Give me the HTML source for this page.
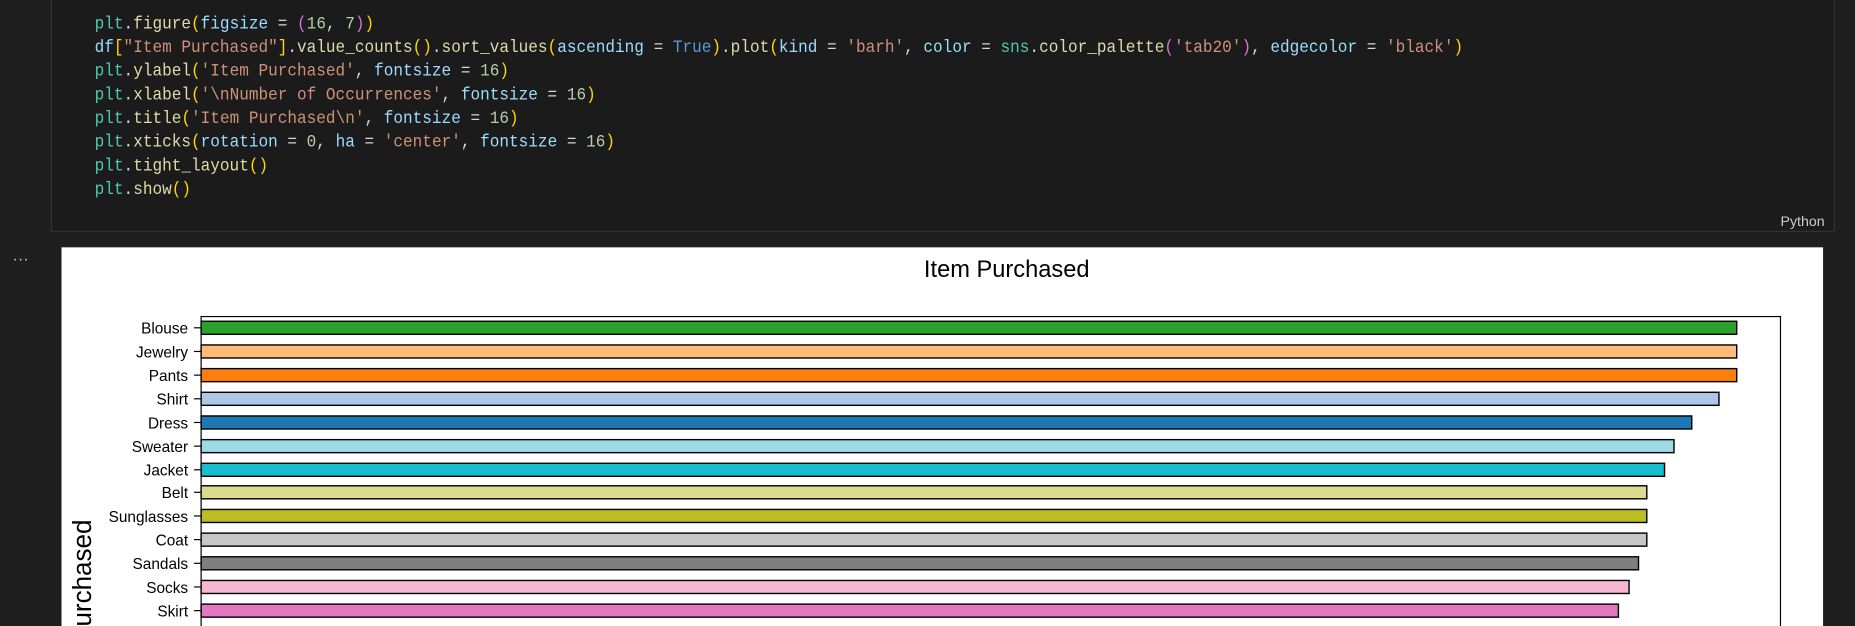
<!DOCTYPE html>
<html><head><meta charset="utf-8"><style>
html,body{margin:0;padding:0;background:#1f1f1f;overflow:hidden;width:1855px;height:626px}
#w{position:absolute;left:0;top:0;width:1568px;height:529px;overflow:hidden;transform:scale(1.18304,1.1834);transform-origin:0 0}
#cell{position:absolute;left:43px;top:-2px;width:1508px;height:198px;background:#1b1b1b;border:1px solid #333;box-sizing:border-box}
.code{position:absolute;left:80px;top:11px;font-family:"Liberation Mono",monospace;font-size:14.6px;line-height:20px;color:#d4d4d4;white-space:pre;transform:scaleX(0.93);transform-origin:0 0}
.p{color:#4ec9b0}.f{color:#dcdcaa}.a{color:#9cdcfe}.s{color:#ce9178}.n{color:#b5cea8}.y{color:#ffd700}.m{color:#da70d6}.b{color:#569cd6}
#py{position:absolute;left:1505px;top:180px;font-family:"Liberation Sans",sans-serif;font-size:12px;color:#ccc}
#dots{position:absolute;left:11px;top:208px;color:#ccc;font-family:"Liberation Sans",sans-serif;font-size:13px;letter-spacing:1px}
#panel{position:absolute;left:52px;top:209px;width:1489px;height:320px;background:#fff}
</style></head><body><div id="w">
<div id="cell"></div>
<div class="code"><span class="p">plt</span>.<span class="f">figure</span><span class="y">(</span><span class="a">figsize</span> = <span class="m">(</span><span class="n">16</span>, <span class="n">7</span><span class="m">)</span><span class="y">)</span>
<span class="a">df</span><span class="y">[</span><span class="s">"Item Purchased"</span><span class="y">]</span>.<span class="f">value_counts</span><span class="y">()</span>.<span class="f">sort_values</span><span class="y">(</span><span class="a">ascending</span> = <span class="b">True</span><span class="y">)</span>.<span class="f">plot</span><span class="y">(</span><span class="a">kind</span> = <span class="s">'barh'</span>, <span class="a">color</span> = <span class="p">sns</span>.<span class="f">color_palette</span><span class="m">(</span><span class="s">'tab20'</span><span class="m">)</span>, <span class="a">edgecolor</span> = <span class="s">'black'</span><span class="y">)</span>
<span class="p">plt</span>.<span class="f">ylabel</span><span class="y">(</span><span class="s">'Item Purchased'</span>, <span class="a">fontsize</span> = <span class="n">16</span><span class="y">)</span>
<span class="p">plt</span>.<span class="f">xlabel</span><span class="y">(</span><span class="s">'\nNumber of Occurrences'</span>, <span class="a">fontsize</span> = <span class="n">16</span><span class="y">)</span>
<span class="p">plt</span>.<span class="f">title</span><span class="y">(</span><span class="s">'Item Purchased\n'</span>, <span class="a">fontsize</span> = <span class="n">16</span><span class="y">)</span>
<span class="p">plt</span>.<span class="f">xticks</span><span class="y">(</span><span class="a">rotation</span> = <span class="n">0</span>, <span class="a">ha</span> = <span class="s">'center'</span>, <span class="a">fontsize</span> = <span class="n">16</span><span class="y">)</span>
<span class="p">plt</span>.<span class="f">tight_layout</span><span class="y">()</span>
<span class="p">plt</span>.<span class="f">show</span><span class="y">()</span></div>
<div id="py">Python</div>
<div id="dots">...</div>
<div id="panel"></div>
<svg style="position:absolute;left:0;top:0" width="1568" height="529" font-family="Liberation Sans, DejaVu Sans, sans-serif">
<text x="851" y="234" font-size="20" text-anchor="middle" fill="#000">Item Purchased</text>
<rect x="170" y="267.5" width="1335" height="280" fill="none" stroke="#000" stroke-width="1"/>
<g stroke="#000" stroke-width="1.2">
<rect x="170" y="271.5" width="1298" height="11" fill="#2ca02c"/>
<rect x="170" y="291.5" width="1298" height="11" fill="#ffbb78"/>
<rect x="170" y="311.5" width="1298" height="11" fill="#ff7f0e"/>
<rect x="170" y="331.5" width="1283" height="11" fill="#aec7e8"/>
<rect x="170" y="351.5" width="1260" height="11" fill="#1f77b4"/>
<rect x="170" y="371.5" width="1245" height="11" fill="#9edae5"/>
<rect x="170" y="391.5" width="1237" height="11" fill="#17becf"/>
<rect x="170" y="410.5" width="1222" height="11" fill="#dbdb8d"/>
<rect x="170" y="430.5" width="1222" height="11" fill="#bcbd22"/>
<rect x="170" y="450.5" width="1222" height="11" fill="#c7c7c7"/>
<rect x="170" y="470.5" width="1215" height="11" fill="#7f7f7f"/>
<rect x="170" y="490.5" width="1207" height="11" fill="#f7b6d2"/>
<rect x="170" y="510.5" width="1198" height="11" fill="#e377c2"/>
</g>
<g font-size="13" text-anchor="end" fill="#000">
<text x="159" y="282">Blouse</text><text x="159" y="302">Jewelry</text><text x="159" y="322">Pants</text>
<text x="159" y="342">Shirt</text><text x="159" y="362">Dress</text><text x="159" y="382">Sweater</text>
<text x="159" y="402">Jacket</text><text x="159" y="421">Belt</text><text x="159" y="441">Sunglasses</text>
<text x="159" y="461">Coat</text><text x="159" y="481">Sandals</text><text x="159" y="501">Socks</text>
<text x="159" y="521">Skirt</text>
</g>
<g stroke="#000" stroke-width="1">
<line x1="164" x2="170" y1="277" y2="277"/><line x1="164" x2="170" y1="297" y2="297"/><line x1="164" x2="170" y1="317" y2="317"/>
<line x1="164" x2="170" y1="337" y2="337"/><line x1="164" x2="170" y1="357" y2="357"/><line x1="164" x2="170" y1="377" y2="377"/>
<line x1="164" x2="170" y1="397" y2="397"/><line x1="164" x2="170" y1="416" y2="416"/><line x1="164" x2="170" y1="436" y2="436"/>
<line x1="164" x2="170" y1="456" y2="456"/><line x1="164" x2="170" y1="476" y2="476"/><line x1="164" x2="170" y1="496" y2="496"/>
<line x1="164" x2="170" y1="516" y2="516"/>
</g>
<text transform="translate(77,516) rotate(-90)" font-size="22" text-anchor="middle" fill="#000">Item Purchased</text>
</svg>
</div></body></html>
